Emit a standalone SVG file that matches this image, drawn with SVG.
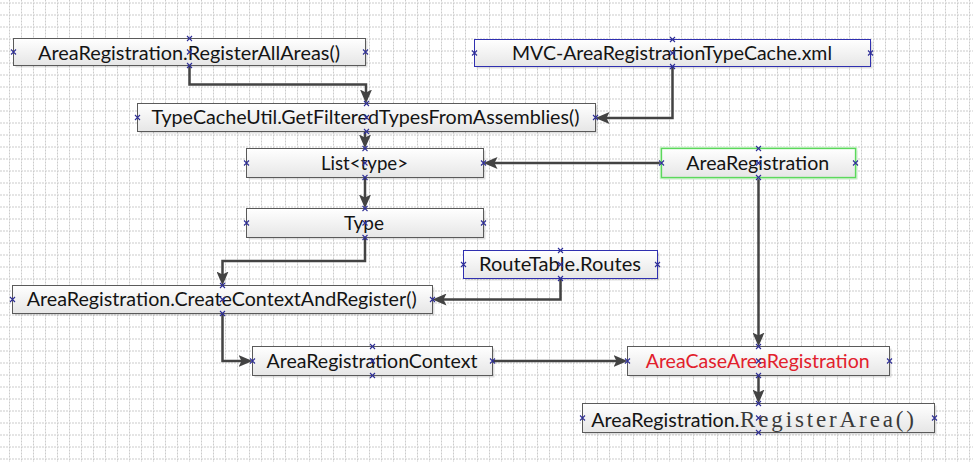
<svg xmlns="http://www.w3.org/2000/svg" xmlns:xlink="http://www.w3.org/1999/xlink" width="973" height="462" viewBox="0 0 973 462">
<defs>
<style>
.bx{fill:url(#gf);stroke:#5a5a5a;stroke-width:1}
.blue{stroke:#3030b0}
.green{stroke:#5cd85c;stroke-width:1.3}
.glow{fill:none;stroke:#c4f2c4;stroke-width:3.5}
.sh{fill:#000;opacity:.13}
.t{font-family:Lato,"Open Sans","Liberation Sans",sans-serif;font-size:19.5px;fill:#141414}
.red{fill:#e2202c}
.sf{font-family:"Liberation Serif","DejaVu Serif",serif;font-size:23px;fill:#3a3a3a}
.cn{fill:none;stroke:#434343;stroke-width:2.5;marker-end:url(#ah)}
.cp{stroke:#2e2e96;stroke-width:1.1;fill:none}
</style>
<linearGradient id="gf" x1="0" y1="0" x2="0" y2="1">
<stop offset="0" stop-color="#ffffff"/>
<stop offset="1" stop-color="#e6e6e6"/>
</linearGradient>
<pattern id="grid" x="9" y="2.5" width="12" height="12" patternUnits="userSpaceOnUse">
<path d="M0.5,0V12M0,0.5H12" stroke="#cbcbcb" stroke-width="1" stroke-dasharray="2 1" fill="none"/>
</pattern>
<marker id="ah" markerUnits="userSpaceOnUse" markerWidth="14" markerHeight="12" viewBox="0 0 14 12" refX="10" refY="6" orient="auto">
<path d="M0,0L14,6L0,12L3,6z" fill="#434343"/>
</marker>
<path id="x" class="cp" d="M-2.5,-2.5L2.5,2.5M-2.5,2.5L2.5,-2.5"/>
</defs>
<rect width="973" height="462" fill="#ffffff"/>
<rect width="973" height="462" fill="url(#grid)"/>

<g id="connectors">
<path class="cn" d="M189.5,66V84.5H366V99.5"/>
<path class="cn" d="M672.5,66.5V118H599.5"/>
<path class="cn" d="M365,131.5V144.5"/>
<path class="cn" d="M661.5,163H487.5"/>
<path class="cn" d="M365,177.5V204.5"/>
<path class="cn" d="M365,237.5V261H222.5V281.5"/>
<path class="cn" d="M560.5,278.5V299.5H436.5"/>
<path class="cn" d="M222.5,313.5V361H248.5"/>
<path class="cn" d="M492.5,361H623.5"/>
<path class="cn" d="M758.5,177.5V342.5"/>
<path class="cn" d="M758.5,375.5V399.5"/>
</g>

<g id="n-registerallareas">
<rect class="sh" x="15.5" y="40.5" width="352" height="27"/>
<rect class="bx" x="13.5" y="38.5" width="352" height="27"/>
<text class="t" x="189" y="59.5" text-anchor="middle" textLength="302" lengthAdjust="spacingAndGlyphs">AreaRegistration.RegisterAllAreas()</text>
<use href="#x" x="13.5" y="52"/><use href="#x" x="365.5" y="52"/><use href="#x" x="189.5" y="38.5"/><use href="#x" x="189.5" y="65.5"/><use href="#x" x="189.5" y="52"/>
</g>

<g id="n-mvccache">
<rect class="sh" x="476.5" y="41.5" width="396" height="27"/>
<rect class="bx blue" x="474.5" y="39.5" width="396" height="27"/>
<text class="t" x="672" y="59.5" text-anchor="middle" textLength="320" lengthAdjust="spacingAndGlyphs">MVC-AreaRegistrationTypeCache.xml</text>
<use href="#x" x="474.5" y="53"/><use href="#x" x="870.5" y="53"/><use href="#x" x="672.5" y="39.5"/><use href="#x" x="672.5" y="66.5"/><use href="#x" x="672.5" y="53"/>
</g>

<g id="n-typecacheutil">
<rect class="sh" x="139.5" y="105.5" width="458" height="28"/>
<rect class="bx" x="137.5" y="103.5" width="458" height="28"/>
<text class="t" x="365.5" y="123.5" text-anchor="middle" textLength="428" lengthAdjust="spacingAndGlyphs">TypeCacheUtil.GetFilteredTypesFromAssemblies()</text>
<use href="#x" x="137.5" y="117.5"/><use href="#x" x="595.5" y="117.5"/><use href="#x" x="366.5" y="103.5"/><use href="#x" x="366.5" y="131.5"/><use href="#x" x="366.5" y="117.5"/>
</g>

<g id="n-listtype">
<rect class="sh" x="248.5" y="150.5" width="237" height="29"/>
<rect class="bx" x="246.5" y="148.5" width="237" height="29"/>
<text class="t" x="364.5" y="169.5" text-anchor="middle" textLength="87" lengthAdjust="spacingAndGlyphs">List&lt;type&gt;</text>
<use href="#x" x="246.5" y="163"/><use href="#x" x="483.5" y="163"/><use href="#x" x="365" y="148.5"/><use href="#x" x="365" y="177.5"/><use href="#x" x="365" y="163"/>
</g>

<g id="n-arearegistration">
<rect class="sh" x="663.5" y="150.5" width="194" height="29"/>
<rect class="glow" x="661.5" y="148.5" width="194" height="29"/>
<rect class="bx green" x="661.5" y="148.5" width="194" height="29"/>
<text class="t" x="757.7" y="169.5" text-anchor="middle" textLength="143" lengthAdjust="spacingAndGlyphs">AreaRegistration</text>
<use href="#x" x="661.5" y="163"/><use href="#x" x="855.5" y="163"/><use href="#x" x="758.5" y="148.5"/><use href="#x" x="758.5" y="177.5"/><use href="#x" x="758.5" y="163"/>
</g>

<g id="n-type">
<rect class="sh" x="248.5" y="210.5" width="237" height="29"/>
<rect class="bx" x="246.5" y="208.5" width="237" height="29"/>
<text class="t" x="364" y="229.5" text-anchor="middle" textLength="40" lengthAdjust="spacingAndGlyphs">Type</text>
<use href="#x" x="246.5" y="223"/><use href="#x" x="483.5" y="223"/><use href="#x" x="365" y="208.5"/><use href="#x" x="365" y="237.5"/><use href="#x" x="365" y="223"/>
</g>

<g id="n-routetable">
<rect class="sh" x="465.5" y="252.5" width="194" height="28"/>
<rect class="bx blue" x="463.5" y="250.5" width="194" height="28"/>
<text class="t" x="560" y="270.5" text-anchor="middle" textLength="162" lengthAdjust="spacingAndGlyphs">RouteTable.Routes</text>
<use href="#x" x="463.5" y="264.5"/><use href="#x" x="657.5" y="264.5"/><use href="#x" x="560.5" y="250.5"/><use href="#x" x="560.5" y="278.5"/><use href="#x" x="560.5" y="264.5"/>
</g>

<g id="n-createcontext">
<rect class="sh" x="14.5" y="287.5" width="420" height="28"/>
<rect class="bx" x="12.5" y="285.5" width="420" height="28"/>
<text class="t" x="221.7" y="306" text-anchor="middle" textLength="390" lengthAdjust="spacingAndGlyphs">AreaRegistration.CreateContextAndRegister()</text>
<use href="#x" x="12.5" y="299.5"/><use href="#x" x="432.5" y="299.5"/><use href="#x" x="222.5" y="285.5"/><use href="#x" x="222.5" y="313.5"/><use href="#x" x="222.5" y="299.5"/>
</g>

<g id="n-context">
<rect class="sh" x="254.5" y="348.5" width="240" height="29"/>
<rect class="bx" x="252.5" y="346.5" width="240" height="29"/>
<text class="t" x="372" y="367.5" text-anchor="middle" textLength="211" lengthAdjust="spacingAndGlyphs">AreaRegistrationContext</text>
<use href="#x" x="252.5" y="361"/><use href="#x" x="492.5" y="361"/><use href="#x" x="372.5" y="346.5"/><use href="#x" x="372.5" y="375.5"/><use href="#x" x="372.5" y="361"/>
</g>

<g id="n-areacase">
<rect class="sh" x="629.5" y="348.5" width="262" height="29"/>
<rect class="bx" x="627.5" y="346.5" width="262" height="29"/>
<text class="t red" x="757.7" y="368" text-anchor="middle" textLength="224" lengthAdjust="spacingAndGlyphs">AreaCaseAreaRegistration</text>
<use href="#x" x="627.5" y="361"/><use href="#x" x="889.5" y="361"/><use href="#x" x="758.5" y="346.5"/><use href="#x" x="758.5" y="375.5"/><use href="#x" x="758.5" y="361"/>
</g>

<g id="n-registerarea">
<rect class="sh" x="584.5" y="405.5" width="352" height="29"/>
<rect class="bx" x="582.5" y="403.5" width="352" height="29"/>
<text class="t" y="426.5"><tspan x="591.3" textLength="148" lengthAdjust="spacingAndGlyphs">AreaRegistration.</tspan><tspan class="sf" x="740" textLength="174">RegisterArea()</tspan></text>
<use href="#x" x="582.5" y="418"/><use href="#x" x="934.5" y="418"/><use href="#x" x="758.5" y="403.5"/><use href="#x" x="758.5" y="432.5"/><use href="#x" x="758.5" y="418"/>
</g>
</svg>
